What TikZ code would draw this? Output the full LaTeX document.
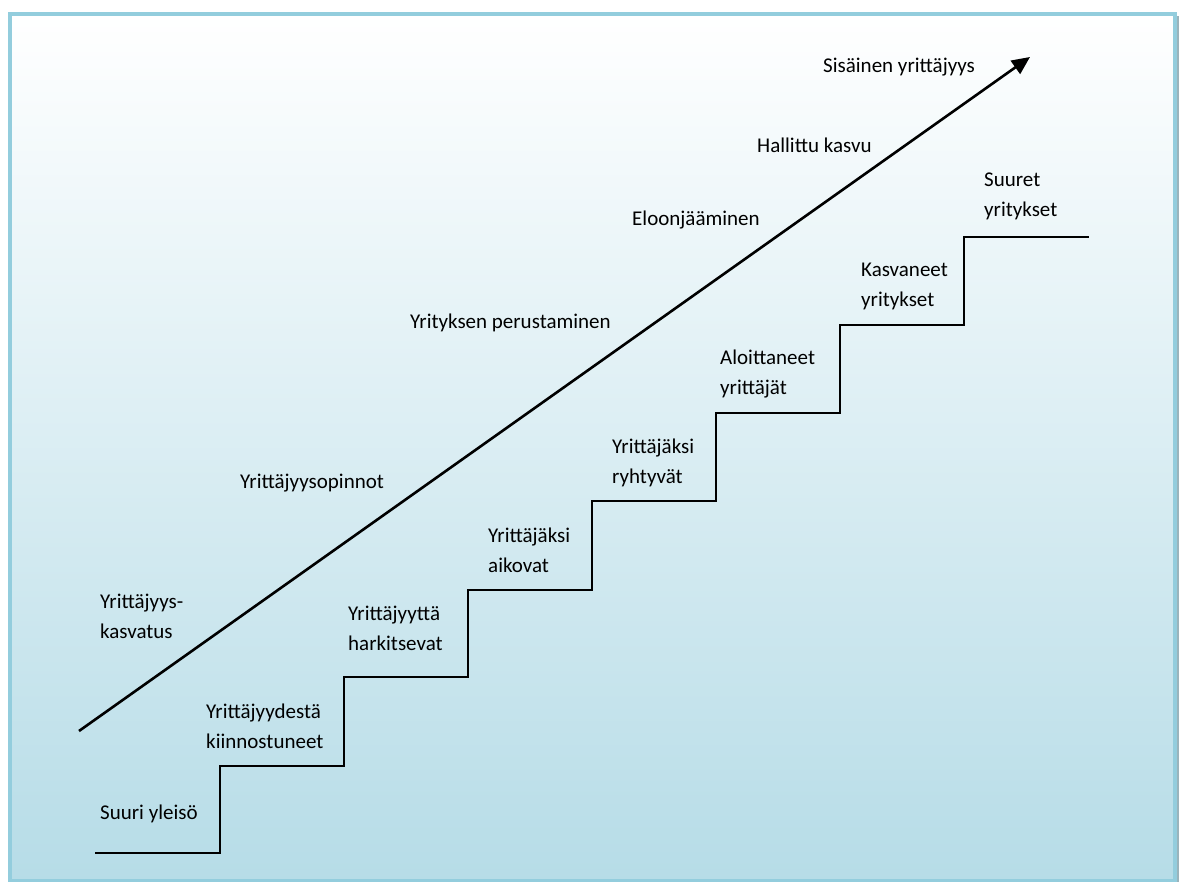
\documentclass[tikz,border=0pt]{standalone}
\usepackage{fontspec}
\setmainfont{Carlito}
\usetikzlibrary{arrows.meta}
\definecolor{framecol}{HTML}{93CDDD}
\definecolor{bottomcol}{HTML}{B6DCE7}
\definecolor{shadowcol}{HTML}{9AB4BC}
\tikzset{
  lbl/.style={anchor=base west, inner sep=0pt, align=left, font=\fontsize{21}{30}\selectfont},
  stairline/.style={line width=2.6pt, line join=miter},
  arrowline/.style={line width=2.6pt, -{Triangle[length=18pt,width=16pt]}}
}
\begin{document}
\begin{tikzpicture}[x=1pt,y=-1pt]
\useasboundingbox (0,0) rectangle (1181,882);
% background
\shade[top color=white, bottom color=bottomcol] (10,14) rectangle (1175,881);
\fill[shadowcol] (1176.5,16) rectangle (1179,882);
\draw[framecol, line width=4pt] (10,14) rectangle (1174.5,881);
% stairs
\draw[stairline] (95,853) -- (220,853) -- (220,766) -- (344,766) -- (344,677) -- (468,677) -- (468,590) -- (592,590) -- (592,501) -- (716,501) -- (716,413) -- (840,413) -- (840,325) -- (964,325) -- (964,237) -- (1089,237);
% arrow
\coordinate (as) at (79,731);
\coordinate (ae) at (1030,57);
\draw[arrowline] (as) -- (ae);
% stair labels (base = baseline of last line)
\node[lbl] (s1) at (100,819) {Suuri yleisö};
\node[lbl] (s2) at (206,748) {Yrittäjyydestä\\kiinnostuneet};
\node[lbl] (s3) at (348,650) {Yrittäjyyttä\\harkitsevat};
\node[lbl] (s4) at (488,572) {Yrittäjäksi\\aikovat};
\node[lbl] (s5) at (612,483) {Yrittäjäksi\\ryhtyvät};
\node[lbl] (s6) at (720,395) {Aloittaneet\\yrittäjät};
\node[lbl] (s7) at (861,307) {Kasvaneet\\yritykset};
\node[lbl] (s8) at (984,217) {Suuret\\yritykset};
% arrow labels
\node[lbl] (a1) at (100,638) {Yrittäjyys-\\kasvatus};
\node[lbl] (a2) at (240,489) {Yrittäjyysopinnot};
\node[lbl] (a3) at (410,329) {Yrityksen perustaminen};
\node[lbl] (a4) at (632,226) {Eloonjääminen};
\node[lbl] (a5) at (757,153) {Hallittu kasvu};
\node[lbl] (a6) at (823,73) {Sisäinen yrittäjyys};
\end{tikzpicture}
\end{document}
